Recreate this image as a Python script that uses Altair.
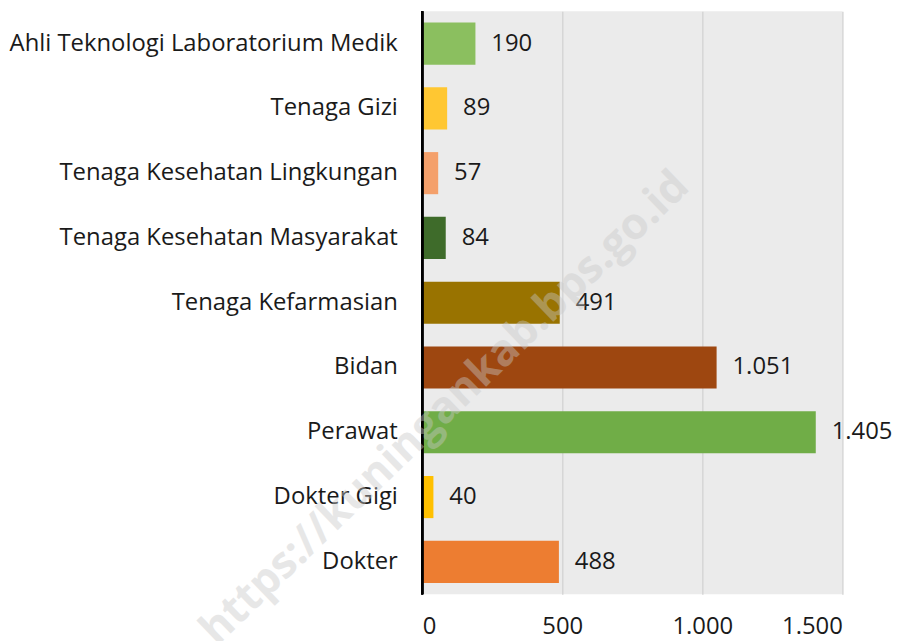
import altair as alt
import pandas as pd

categories = [
    "Ahli Teknologi Laboratorium Medik",
    "Tenaga Gizi",
    "Tenaga Kesehatan Lingkungan",
    "Tenaga Kesehatan Masyarakat",
    "Tenaga Kefarmasian",
    "Bidan",
    "Perawat",
    "Dokter Gigi",
    "Dokter",
]
values = [190, 89, 57, 84, 491, 1051, 1405, 40, 488]
labels = ["190", "89", "57", "84", "491", "1.051", "1.405", "40", "488"]
colors = ["#8BBF5F", "#FFC732", "#F4A06B", "#3E6B2A", "#997300",
          "#9E4710", "#70AD47", "#FFC000", "#ED7D31"]
x_ticks = [0, 500, 1000, 1500]
watermark = ["https://kuningankab.bps.go.id"]

df = pd.DataFrame({"cat": categories, "val": values, "lab": labels, "col": colors})

FONT = "Open Sans"

y_enc = alt.Y("cat:N", sort=categories, title=None,
              scale=alt.Scale(paddingInner=0.35, paddingOuter=0.175),
              axis=alt.Axis(ticks=False, domain=False, labelPadding=25,
                            labelFontSize=24, labelColor="#1a1a1a",
                            labelFont=FONT, labelLimit=600))
x_enc = alt.X("val:Q", title=None,
              scale=alt.Scale(domain=[0, 1500], nice=False),
              axis=alt.Axis(values=x_ticks, ticks=False, domain=False,
                            labelPadding=21, labelFontSize=24,
                            labelColor="#1a1a1a", labelFont=FONT,
                            grid=True, gridColor="#d6d6d6", gridWidth=1.5,
                            labelExpr="replace(format(datum.value, ','), ',', '.')"))

bars = alt.Chart(df).mark_bar().encode(
    y=y_enc, x=x_enc, color=alt.Color("col:N", scale=None)
)

text = alt.Chart(df).mark_text(align="left", baseline="middle", dx=16,
                               fontSize=24, font=FONT, color="#1a1a1a").encode(
    y=alt.Y("cat:N", sort=categories), x="val:Q", text="lab:N"
)

axis_line = alt.Chart(df).mark_rule(color="#000000", strokeWidth=2).encode(
    x=alt.datum(0)
)

wm = alt.Chart(pd.DataFrame({"t": watermark})).mark_text(
    fontSize=44, font=FONT, fontWeight="bold", color="#c8c8c8",
    opacity=0.42, angle=316, align="center", baseline="middle"
).encode(text="t:N", x=alt.value(23), y=alt.value(400))

chart = alt.layer(bars, text, axis_line, wm).properties(
    width=423, height=587, background="#ffffff",
    padding={"left": 0, "top": 0, "right": 5, "bottom": 5}
).configure_view(fill="#ebebeb", stroke=None)

chart.save("out.html", embed_options={"renderer": "svg", "actions": False})
